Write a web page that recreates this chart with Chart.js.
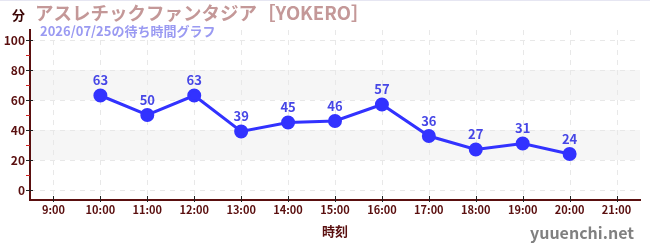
<!DOCTYPE html>
<html lang="ja">
<head>
    <meta charset="UTF-8">
    <title>待ち時間グラフ</title>
    <style>
        body { margin: 0; background: #fff; }
        #wrap { width: 650px; height: 250px; position: relative; }
    </style>
</head>
<body>
    <div id="wrap"><canvas id="chart" width="650" height="250"></canvas></div>

    <script src="https://cdn.jsdelivr.net/npm/chart.js"></script>
    <script>
        const times = ['9:00', '10:00', '11:00', '12:00', '13:00', '14:00', '15:00', '16:00', '17:00', '18:00', '19:00', '20:00', '21:00'];
        const waits = [null, 63, 50, 63, 39, 45, 46, 57, 36, 27, 31, 24, null];
        const yTicks = [0, 20, 40, 60, 80, 100];
        const minorTicks = [10, 30, 50, 70, 90];
        const bands = [[20, 40], [60, 80]];

        const FONT = '"Noto Sans CJK JP", "Noto Sans", sans-serif';
        const AXIS = '#5a0f0f';

        // bands, dashed grid, ticks, labels and headings drawn by hand
        const decor = {
            id: 'decor',
            beforeDraw(chart) {
                const { ctx, chartArea: a, scales: { x, y } } = chart;
                ctx.save();
                ctx.fillStyle = '#e6e6f2';
                ctx.fillRect(0, 0, chart.width, 1);
                ctx.fillStyle = '#f6f6f6';
                bands.forEach(([lo, hi]) => {
                    const t = y.getPixelForValue(hi), b = y.getPixelForValue(lo);
                    ctx.fillRect(a.left, t, a.right - a.left, b - t);
                });
                ctx.strokeStyle = '#e8e8e8';
                ctx.lineWidth = 1;
                ctx.setLineDash([5, 5]);
                yTicks.forEach(v => {
                    const py = Math.round(y.getPixelForValue(v)) + 0.5;
                    ctx.beginPath(); ctx.moveTo(a.left, py); ctx.lineTo(a.right, py); ctx.stroke();
                });
                times.forEach((t, i) => {
                    const px = Math.round(x.getPixelForValue(i)) + 0.5;
                    ctx.beginPath(); ctx.moveTo(px, a.top); ctx.lineTo(px, a.bottom); ctx.stroke();
                });
                ctx.restore();
            },
            afterDraw(chart) {
                const { ctx, chartArea: a, scales: { x, y } } = chart;
                ctx.save();
                // minor ticks
                ctx.strokeStyle = '#d02020';
                ctx.lineWidth = 1;
                minorTicks.forEach(v => {
                    const py = Math.round(y.getPixelForValue(v)) + 0.5;
                    ctx.beginPath(); ctx.moveTo(a.left - 4, py); ctx.lineTo(a.left, py); ctx.stroke();
                });
                // major ticks
                ctx.strokeStyle = '#222';
                yTicks.forEach(v => {
                    const py = Math.round(y.getPixelForValue(v)) + 0.5;
                    ctx.beginPath(); ctx.moveTo(a.left - 4, py); ctx.lineTo(a.left + 3, py); ctx.stroke();
                });
                times.forEach((t, i) => {
                    const px = Math.round(x.getPixelForValue(i)) + 0.5;
                    ctx.beginPath(); ctx.moveTo(px, a.bottom - 4); ctx.lineTo(px, a.bottom + 2); ctx.stroke();
                });

                // value labels
                const meta = chart.getDatasetMeta(0);
                ctx.fillStyle = '#4646e6';
                ctx.font = 'bold 13px ' + FONT;
                ctx.textAlign = 'center';
                ctx.textBaseline = 'middle';
                meta.data.forEach((pt, i) => {
                    if (waits[i] == null) return;
                    ctx.fillText(String(waits[i]), pt.x, pt.y - 15);
                });

                // headings
                ctx.textAlign = 'left';
                ctx.fillStyle = '#3a0505';
                ctx.font = 'bold 13px ' + FONT;
                ctx.fillText('分', 12, 15);
                ctx.fillStyle = '#c49898';
                ctx.font = 'bold 18.5px ' + FONT;
                ctx.fillText('アスレチックファンタジア［YOKERO］', 35, 13);
                ctx.fillStyle = '#9a9af2';
                ctx.font = 'bold 13px ' + FONT;
                ctx.fillText('2026/07/25の待ち時間グラフ', 40, 31);
                ctx.fillStyle = '#808080';
                ctx.font = 'bold 16px ' + FONT;
                ctx.textAlign = 'right';
                ctx.fillText('yuuenchi.net', 634, 233);
                ctx.restore();
            }
        };

        new Chart(document.getElementById('chart'), {
            type: 'line',
            data: {
                labels: times,
                datasets: [{
                    data: waits,
                    borderColor: '#3232ff',
                    backgroundColor: '#3232ff',
                    borderWidth: 3,
                    pointRadius: 5.5,
                    pointHoverRadius: 5.5,
                    tension: 0,
                    spanGaps: false
                }]
            },
            options: {
                responsive: false,
                animation: false,
                layout: { padding: { top: 30, right: 10, left: 0, bottom: 0 } },
                plugins: { legend: { display: false }, tooltip: { enabled: false } },
                scales: {
                    x: {
                        offset: true,
                        afterFit: s => { s.height = 50; },
                        grid: { display: false, drawTicks: false },
                        border: { color: AXIS, width: 2 },
                        ticks: { color: AXIS, font: { family: FONT, size: 11, weight: 'bold' }, padding: 3, maxRotation: 0, autoSkip: false },
                        title: { display: true, text: '時刻', color: AXIS, font: { family: FONT, size: 13, weight: 'bold' }, padding: { top: 8, bottom: 11 } }
                    },
                    y: {
                        min: -6.67,
                        max: 106.67,
                        afterBuildTicks: s => { s.ticks = yTicks.map(v => ({ value: v })); },
                        afterFit: s => { s.width = 30; },
                        grid: { display: false, drawTicks: false },
                        border: { color: AXIS, width: 2 },
                        ticks: { color: AXIS, font: { family: FONT, size: 12, weight: 'bold' }, padding: 5 }
                    }
                }
            },
            plugins: [decor]
        });
    </script>
</body>
</html>
